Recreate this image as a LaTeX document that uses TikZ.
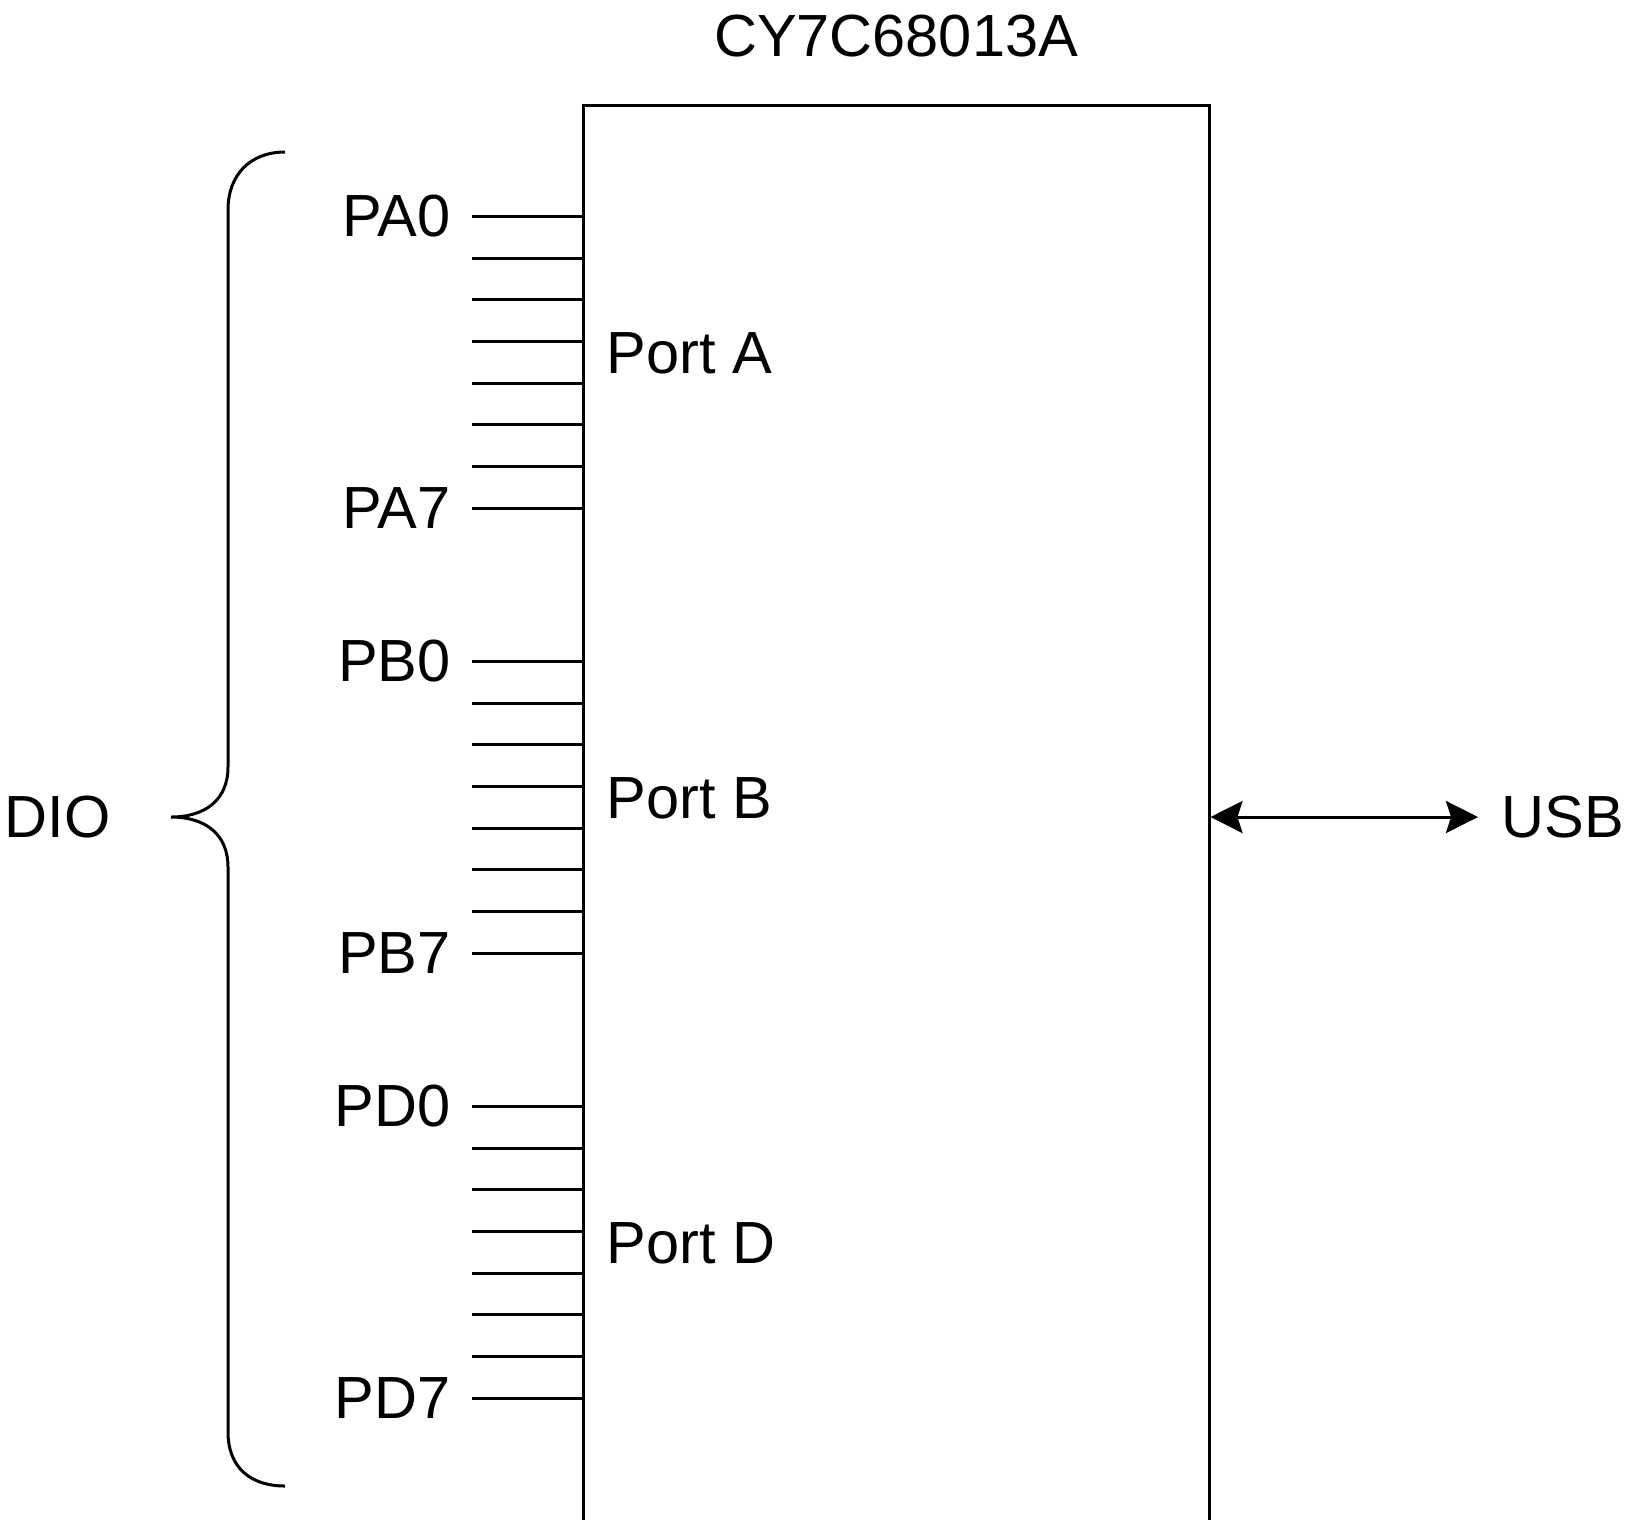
\documentclass[tikz,border=0pt]{standalone}
\usepackage{fontspec}
\setmainfont{Liberation Sans}
\usetikzlibrary{arrows.meta}

\begin{document}
\begin{tikzpicture}[x=1pt, y=-1pt, line width=3pt,
		lbl/.style={inner sep=0pt, font=\fontsize{59.5}{62}\selectfont},
		bus/.style={{Stealth[length=32pt, width=32pt, inset=5pt]}-{Stealth[length=32pt, width=32pt, inset=5pt]}}]
	\useasboundingbox (0,0) rectangle (1627,1519);
	\clip (0,0) rectangle (1627,1519);
	\begin{scope}
		\node[draw, anchor=north, minimum width=626pt, minimum height=1500pt, inner sep=0pt] (chip) at (896,104) {};
		\node[lbl] (title) at (896,36) {CY7C68013A};
		\foreach \p/\y/\txt in {A/216/Port A, B/661/Port B, D/1106/Port D} {
			\foreach \i in {0,...,7} {
				\coordinate (p\p\i) at (472,{round(\y+41.65*\i)});
				\draw (p\p\i) -- (p\p\i -| chip.west);
			}
			\node[lbl, anchor=east] (l\p0) at ([xshift=-20pt]p\p0) {P\p0};
			\node[lbl, anchor=east] (l\p7) at ([xshift=-20pt]p\p7) {P\p7};
			\node[lbl, anchor=west] (port\p) at (605,{\y+137}) {\txt};
		}
		\coordinate (tip) at (171,817);
		\draw (285,152) .. controls (250,152) and (228,175) .. (228,210) -- (228,767)
			.. controls (228,800) and (205,817) .. (tip)
			.. controls (205,817) and (228,834) .. (228,867) -- (228,1432)
			.. controls (228,1467) and (250,1486) .. (285,1486);
		\node[lbl, anchor=east] (dio) at ([xshift=-59pt]tip) {DIO};
		\coordinate (usbend) at (1478,817);
		\draw[bus] (chip.east |- usbend) -- (usbend);
		\node[lbl, anchor=west] (usb) at ([xshift=22pt]usbend) {USB};
	\end{scope}
\end{tikzpicture}
\end{document}
